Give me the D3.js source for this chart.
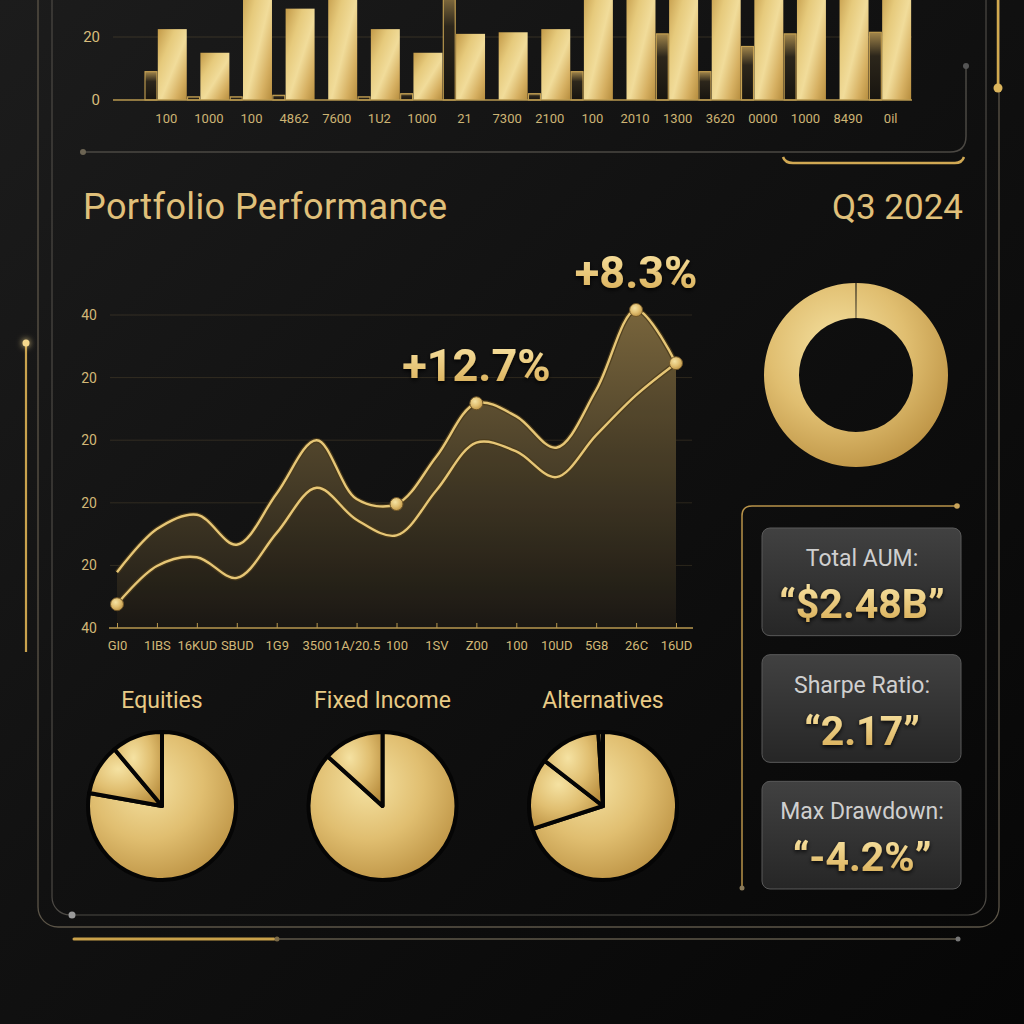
<!DOCTYPE html>
<html>
<head>
<meta charset="utf-8">
<script src="https://cdn.jsdelivr.net/npm/d3@7"></script>
<style>
  html, body { margin:0; padding:0; background:#0c0c0c; }
  svg { display:block; font-family: Roboto, "Noto Sans", sans-serif; }
</style>
</head>
<body>
<div id="chart"></div>
<script>
// top strip of bars
var barCats  = ["100","1000","100","4862","7600","1U2","1000","21","7300","2100","100","2010","1300","3620","0000","1000","8490","0il"]
var barMain  = [22.5, 15, 38, 29, 36, 22.5, 15, 21, 21.5, 22.5, 38, 37, 36, 38, 39, 37, 37, 38]
var barPrev  = [9, 1, 1, 1.5, 0, 1, 2, 36, 0, 2, 9, 0, 21, 9, 17, 21, 0, 21.5]
var barTicks = [0, 20]

// performance lines
var perfCats  = ["GI0","1IBS","16KUD","SBUD","1G9","3500","1A/20.5","100","1SV","Z00","100","10UD","5G8","26C","16UD"]
var perfUpper = [8.9, 15.8, 18.1, 13.3, 21.5, 30, 20.6, 19.8, 27.4, 35.9, 33.8, 28.8, 38, 50.8, 42.3]
var perfLower = [3.8, 9.9, 11.3, 8, 15.2, 22.4, 17.3, 14.8, 22, 29.6, 28.2, 24.1, 30.8, 37.2, 42.3]
var perfTicks = [0, 10, 20, 30, 40, 50]
var perfTickLabels = ["40","20","20","20","20","40"]
var upperDots = [7, 9, 13, 14]
var lowerDots = [0]
var callouts   = ["+12.7%", "+8.3%"]
var calloutIdx = [9, 13]

// allocation
var donutVals   = [100]
var pieTitles   = ["Equities", "Fixed Income", "Alternatives"]
var pieEquities = [77.8, 11.1, 11.1]
var pieFixed    = [86.7, 13.3]
var pieAlt      = [70, 15.5, 13.5, 1]

// stat cards
var statLabels = ["Total AUM:", "Sharpe Ratio:", "Max Drawdown:"]
var statValues = ["\u201C$2.48B\u201D", "\u201C2.17\u201D", "\u201C-4.2%\u201D"]

var svg = d3.select("#chart").append("svg").attr("width", 1024).attr("height", 1024)
var defs = svg.append("defs")

function gradient(id, type, attrs, stops) {
  var g = defs.append(type).attr("id", id)
  Object.keys(attrs).forEach(function (k) { g.attr(k, attrs[k]) })
  stops.forEach(function (s) {
    g.append("stop").attr("offset", s[0]).attr("stop-color", s[1]).attr("stop-opacity", s[2] == null ? 1 : s[2])
  })
}

gradient("bg", "linearGradient", {x1: 0, y1: 0, x2: 1, y2: 1}, [["0%", "#1c1c1c"], ["45%", "#111"], ["100%", "#060606"]])
gradient("goldBar", "linearGradient", {x1: 0, y1: 0, x2: 1, y2: 1},
  [["0%", "#c39a48"], ["30%", "#e6ca7c"], ["55%", "#f1dc9a"], ["80%", "#d6b062"], ["100%", "#b68d3e"]])
gradient("prevBar", "linearGradient", {x1: 0, y1: 0, x2: 0, y2: 1},
  [["0%", "#a2864b"], ["35%", "#2c261b"], ["100%", "#17140f"]])
gradient("goldRound", "radialGradient", {cx: "40%", cy: "35%", r: "75%"},
  [["0%", "#f5e2a2"], ["50%", "#e0be70"], ["100%", "#b78c3d"]])
gradient("areaFill", "linearGradient", {gradientUnits: "userSpaceOnUse", x1: 0, y1: 300, x2: 0, y2: 628},
  [["0%", "#7b673d"], ["50%", "#4b4029"], ["100%", "#1d1a15"]])
gradient("card", "linearGradient", {x1: 0, y1: 0, x2: 0, y2: 1}, [["0%", "#414141"], ["100%", "#262626"]])
gradient("textGold", "linearGradient", {x1: 0, y1: 0, x2: 0, y2: 1}, [["0%", "#fbe7a8"], ["100%", "#d5a84f"]])

var glow = defs.append("filter").attr("id", "glow").attr("x", "-100%").attr("y", "-100%").attr("width", "300%").attr("height", "300%")
glow.append("feGaussianBlur").attr("stdDeviation", 3).attr("result", "b")
var gm = glow.append("feMerge")
gm.append("feMergeNode").attr("in", "b")
gm.append("feMergeNode").attr("in", "SourceGraphic")

var shadow = defs.append("filter").attr("id", "shadow").attr("x", "-20%").attr("y", "-20%").attr("width", "140%").attr("height", "160%")
shadow.append("feDropShadow").attr("dx", 0).attr("dy", 2).attr("stdDeviation", 2)
  .attr("flood-color", "#000").attr("flood-opacity", 0.85)

svg.append("rect").attr("width", 1024).attr("height", 1024).attr("fill", "url(#bg)")

// frame decoration
var deco = svg.append("g").attr("fill", "none")
deco.append("rect").attr("x", 38).attr("y", -40).attr("width", 961).attr("height", 967).attr("rx", 20)
  .attr("stroke", "#5c5548").attr("stroke-width", 1.3)
deco.append("rect").attr("x", 52).attr("y", -40).attr("width", 934).attr("height", 955).attr("rx", 18)
  .attr("stroke", "#4d4a45").attr("stroke-width", 1.2)
deco.append("line").attr("x1", 998).attr("x2", 998).attr("y1", 0).attr("y2", 88)
  .attr("stroke", "#d2a94f").attr("stroke-width", 2.5)
deco.append("circle").attr("cx", 998).attr("cy", 88).attr("r", 4.5).attr("fill", "#dcb55c")
deco.append("circle").attr("cx", 72).attr("cy", 915).attr("r", 3.5).attr("fill", "#9a9a9a")
deco.append("line").attr("x1", 75).attr("x2", 958).attr("y1", 939).attr("y2", 939).attr("stroke", "#5f584a").attr("stroke-width", 1.3)
deco.append("line").attr("x1", 74).attr("x2", 274).attr("y1", 939).attr("y2", 939)
  .attr("stroke", "#c9a14a").attr("stroke-width", 3).attr("stroke-linecap", "round")
deco.append("circle").attr("cx", 277).attr("cy", 939).attr("r", 2.5).attr("fill", "#7a6a48")
deco.append("circle").attr("cx", 958).attr("cy", 939).attr("r", 2.5).attr("fill", "#777")
deco.append("line").attr("x1", 26).attr("x2", 26).attr("y1", 343).attr("y2", 652)
  .attr("stroke", "#c9a24d").attr("stroke-width", 2.2)
deco.append("circle").attr("cx", 26).attr("cy", 343).attr("r", 3.5).attr("fill", "#f5d98e").attr("filter", "url(#glow)")
deco.append("path").attr("d", "M83,152 H950 Q966,152 966,136 V66").attr("stroke", "#4b4843").attr("stroke-width", 1.5)
deco.append("circle").attr("cx", 83).attr("cy", 152).attr("r", 3).attr("fill", "#6c6453")
deco.append("circle").attr("cx", 966).attr("cy", 66).attr("r", 3).attr("fill", "#555")
deco.append("path").attr("d", "M783,157 Q785,163 793,163 H955 Q962,163 964,157")
  .attr("stroke", "#d0a853").attr("stroke-width", 2.5)

// ---------- top bar strip ----------
// labels repeat, so the band scale runs on the index
var bx = d3.scaleBand().domain(d3.range(barCats.length)).range([145, 912])
var by = d3.scaleLinear().domain([0, 20]).range([100, 37])
var bw = bx.bandwidth()
var strip = svg.append("g")

strip.append("line").attr("x1", 113).attr("x2", 912).attr("y1", by(20)).attr("y2", by(20))
  .attr("stroke", "#c8a864").attr("stroke-opacity", 0.18)

strip.selectAll(".prev").data(barPrev).enter().append("rect")
  .attr("class", "prev")
  .attr("x", function (d, i) { return bx(i) })
  .attr("width", bw * 0.28)
  .attr("y", function (d) { return by(d) })
  .attr("height", function (d) { return by(0) - by(d) })
  .attr("fill", "url(#prevBar)")
  .attr("stroke", "#c7a252").attr("stroke-width", 1.1)
  .style("display", function (d) { return d > 0 ? null : "none" })

strip.selectAll(".main").data(barMain).enter().append("rect")
  .attr("class", "main")
  .attr("x", function (d, i) { return bx(i) + bw * 0.3 })
  .attr("width", bw * 0.68)
  .attr("y", function (d) { return by(d) })
  .attr("height", function (d) { return by(0) - by(d) })
  .attr("fill", "url(#goldBar)")

strip.append("line").attr("x1", 113).attr("x2", 912).attr("y1", by(0)).attr("y2", by(0))
  .attr("stroke", "#b8984f").attr("stroke-width", 1.6)

strip.selectAll(".bt").data(barTicks).enter().append("text")
  .attr("x", 100).attr("y", function (d) { return by(d) }).attr("dy", "0.35em")
  .attr("text-anchor", "end").attr("font-size", 15).attr("fill", "#d8bd7c")
  .text(function (d) { return d })

strip.selectAll(".bl").data(barCats).enter().append("text")
  .attr("x", function (d, i) { return bx(i) + bw / 2 }).attr("y", 118).attr("dy", "0.35em")
  .attr("text-anchor", "middle").attr("font-size", 13).attr("fill", "#cdb474")
  .text(function (d) { return d })

// ---------- titles ----------
svg.append("text").attr("x", 83).attr("y", 219).attr("font-size", 36).attr("letter-spacing", 0.4)
  .attr("fill", "#e0c07a").text("Portfolio Performance")
svg.append("text").attr("x", 963).attr("y", 219).attr("font-size", 35).attr("fill", "#e0c07a")
  .attr("text-anchor", "end").text("Q3 2024")

// ---------- performance area chart ----------
var px = d3.scalePoint().domain(d3.range(perfCats.length)).range([117, 676])
var py = d3.scaleLinear().domain([0, 50]).range([628, 315])
var perf = svg.append("g")

perf.selectAll(".grid").data(perfTicks.slice(1)).enter().append("line")
  .attr("x1", 110).attr("x2", 692)
  .attr("y1", function (d) { return py(d) }).attr("y2", function (d) { return py(d) })
  .attr("stroke", "#c8a864").attr("stroke-opacity", 0.16)

perf.selectAll(".yl").data(perfTicks).enter().append("text")
  .attr("x", 97).attr("y", function (d) { return py(d) }).attr("dy", "0.35em")
  .attr("text-anchor", "end").attr("font-size", 14).attr("fill", "#d2b877")
  .text(function (d, i) { return perfTickLabels[i] })

var areaUpper = d3.area()
  .x(function (d, i) { return px(i) })
  .y0(py(0))
  .y1(function (d) { return py(d) })
  .curve(d3.curveCatmullRom.alpha(0.5))
var lineGen = d3.line()
  .x(function (d, i) { return px(i) })
  .y(function (d) { return py(d) })
  .curve(d3.curveCatmullRom.alpha(0.5))

perf.append("path").datum(perfUpper).attr("d", areaUpper).attr("fill", "url(#areaFill)")
perf.append("path").datum(perfLower).attr("d", areaUpper).attr("fill", "#000").attr("fill-opacity", 0.08)

;[perfUpper, perfLower].forEach(function (s) {
  perf.append("path").datum(s).attr("d", lineGen).attr("fill", "none")
    .attr("stroke", "#4a3a1a").attr("stroke-width", 5).attr("stroke-opacity", 0.8)
  perf.append("path").datum(s).attr("d", lineGen).attr("fill", "none")
    .attr("stroke", "#e6c676").attr("stroke-width", 2.4)
})

var xAxis = d3.axisBottom(px).tickSize(-5).tickPadding(13)
  .tickFormat(function (i) { return perfCats[i] })
var xg = perf.append("g").attr("transform", "translate(0," + py(0) + ")").call(xAxis)
xg.select(".domain").remove()
xg.selectAll(".tick line").attr("stroke", "#b8984f")
xg.selectAll(".tick text").attr("font-size", 13).attr("fill", "#d2b877").attr("font-family", "Roboto, sans-serif")
perf.append("line").attr("x1", 109).attr("x2", 693).attr("y1", py(0)).attr("y2", py(0))
  .attr("stroke", "#b8984f").attr("stroke-width", 1.6)

perf.selectAll(".ud").data(upperDots).enter().append("circle")
  .attr("cx", function (i) { return px(i) })
  .attr("cy", function (i) { return py(perfUpper[i]) })
  .attr("r", 6.5).attr("fill", "url(#goldRound)").attr("stroke", "#6d5428")
perf.selectAll(".ld").data(lowerDots).enter().append("circle")
  .attr("cx", function (i) { return px(i) })
  .attr("cy", function (i) { return py(perfLower[i]) })
  .attr("r", 6.5).attr("fill", "url(#goldRound)").attr("stroke", "#6d5428")

perf.selectAll(".callout").data(callouts).enter().append("text")
  .attr("x", function (d, i) { return px(calloutIdx[i]) })
  .attr("y", function (d, i) { return py(perfUpper[calloutIdx[i]]) - 22 })
  .attr("text-anchor", "middle").attr("font-size", 45).attr("font-weight", "bold")
  .attr("fill", "url(#textGold)").attr("filter", "url(#shadow)")
  .text(function (d) { return d })

// ---------- donut ----------
var donut = svg.append("g").attr("transform", "translate(856,375)")
var donutArc = d3.arc().innerRadius(57).outerRadius(92)
var donutPie = d3.pie().sort(null).startAngle(0.006).endAngle(2 * Math.PI - 0.006)
donut.selectAll("path").data(donutPie(donutVals)).enter().append("path")
  .attr("d", donutArc).attr("fill", "url(#goldRound)")

// ---------- allocation pies ----------
var pieX = d3.scalePoint().domain(pieTitles).range([162, 603])
var pieData = [pieEquities, pieFixed, pieAlt]
var pieArc = d3.arc().innerRadius(0).outerRadius(74)
var pieGen = d3.pie().sort(null)

pieTitles.forEach(function (t, k) {
  var g = svg.append("g").attr("transform", "translate(" + pieX(t) + ",806)")
  g.selectAll("path").data(pieGen(pieData[k])).enter().append("path")
    .attr("d", pieArc).attr("fill", "url(#goldRound)")
    .attr("stroke", "#050505").attr("stroke-width", 4).attr("stroke-linejoin", "round")
  svg.append("text").attr("x", pieX(t)).attr("y", 708).attr("text-anchor", "middle")
    .attr("font-size", 23).attr("fill", "#e8ca85").text(t)
})

// ---------- stat cards ----------
var cardY = d3.scaleBand().domain(statLabels).range([528, 889]).paddingInner(0.15)
svg.append("path").attr("d", "M742,888 V516 Q742,506 752,506 H957")
  .attr("fill", "none").attr("stroke", "#b8934a").attr("stroke-width", 1.5)
svg.append("circle").attr("cx", 957).attr("cy", 506).attr("r", 2.8).attr("fill", "#c9a45a")
svg.append("circle").attr("cx", 742).attr("cy", 888).attr("r", 2.5).attr("fill", "#8a7a5a")

var cards = svg.selectAll(".card").data(statLabels).enter().append("g")
  .attr("transform", function (d) { return "translate(762," + cardY(d) + ")" })
cards.append("rect").attr("width", 199).attr("height", cardY.bandwidth()).attr("rx", 8)
  .attr("fill", "url(#card)").attr("stroke", "#5a5a5a").attr("stroke-width", 1)
cards.append("text").attr("x", 100).attr("y", 38).attr("text-anchor", "middle")
  .attr("font-size", 23).attr("fill", "#cfcfcf").text(function (d) { return d })
cards.append("text").attr("x", 100).attr("y", 90).attr("text-anchor", "middle")
  .attr("font-size", 41).attr("font-weight", "bold").attr("fill", "url(#textGold)")
  .attr("filter", "url(#shadow)")
  .text(function (d, i) { return statValues[i] })
</script>
</body>
</html>
